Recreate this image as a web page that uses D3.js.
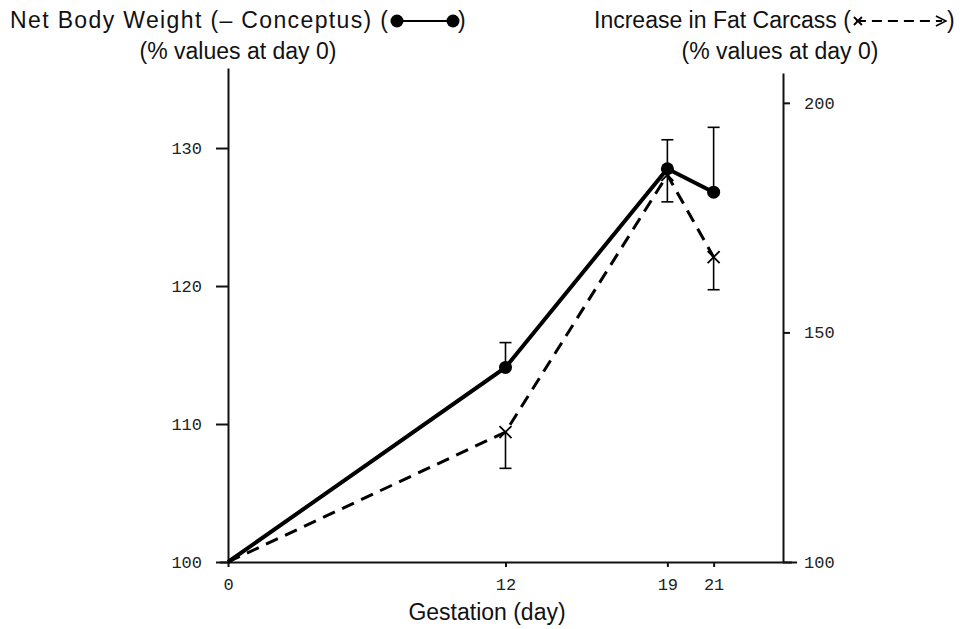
<!doctype html>
<html>
<head>
<meta charset="utf-8">
<script src="https://d3js.org/d3.v7.min.js"></script>
<style>
  body { margin: 0; background: #fff; }
  .title { font-family: "Liberation Sans", Arial, sans-serif; font-size: 23px; fill: #111; }
  .tick text { font-family: "Liberation Mono", "DejaVu Sans Mono", monospace; font-size: 17px; fill: #222; }
  .tick line, .domain { stroke: #111; stroke-width: 2; }
</style>
</head>
<body>
<svg width="965" height="629"></svg>
<script>

// gestation days and the two series (left and right axes)
var days = [0, 12, 19, 21];
var bodyWeight = [100, 114.1, 128.5, 126.8];   // % of day 0, left axis
var bodyErrUp  = [null, 115.9, 130.6, 131.5];
var bodyErrLo  = [null, null, 126.1, null];
var fatCarcass = [100, 128.3, 184.3, 166.4];   // % of day 0, right axis
var fatErrLo   = [null, 120.4, null, 159.3];

var xTicks = [0, 12, 19, 21];
var leftTicks = [100, 110, 120, 130];
var rightTicks = [100, 150, 200];

var svg = d3.select("svg");

var x = d3.scaleLinear().domain([0, 24]).range([228, 783]);
var yL = d3.scaleLinear().domain([100, 135.8]).range([562, 68]);
var yR = d3.scaleLinear().domain([100, 206.5]).range([562, 73]);

// axes
var gL = svg.append("g").attr("transform", "translate(228,0)")
    .call(d3.axisLeft(yL).tickValues(leftTicks).tickSize(12).tickSizeOuter(0).tickPadding(14));
var gR = svg.append("g").attr("transform", "translate(783,0)")
    .call(d3.axisRight(yR).tickValues(rightTicks).tickSize(7).tickSizeOuter(0).tickPadding(14));
var gX = svg.append("g").attr("transform", "translate(0,562)")
    .call(d3.axisBottom(x).tickValues(xTicks).tickSize(5).tickSizeOuter(0).tickPadding(11));
gX.select(".domain").attr("d", "M220,0.5H792");
gX.selectAll(".tick line").attr("stroke-width", 1.5);
gR.selectAll(".tick").filter(function(d) { return d === 100; }).select("line").attr("x2", 14);

// body weight line (solid)
var lineL = d3.line().x(function(d, i) { return x(days[i]); }).y(function(d) { return yL(d); });
svg.append("path").datum(bodyWeight)
    .attr("d", lineL).attr("fill", "none").attr("stroke", "#000").attr("stroke-width", 4);

// fat carcass line (dashed)
var lineR = d3.line().x(function(d, i) { return x(days[i]); }).y(function(d) { return yR(d); });
svg.append("path").datum(fatCarcass)
    .attr("d", lineR).attr("fill", "none").attr("stroke", "#000")
    .attr("stroke-width", 3).attr("stroke-dasharray", "13,8");

// error bars
function errBar(xv, y0, y1) {
  svg.append("line").attr("x1", xv).attr("x2", xv).attr("y1", y0).attr("y2", y1)
      .attr("stroke", "#000").attr("stroke-width", 1.6);
  svg.append("line").attr("x1", xv - 6).attr("x2", xv + 6).attr("y1", y1).attr("y2", y1)
      .attr("stroke", "#000").attr("stroke-width", 1.6);
}
days.forEach(function(d, i) {
  if (bodyErrUp[i] != null) errBar(x(d), yL(bodyWeight[i]), yL(bodyErrUp[i]));
  if (bodyErrLo[i] != null) errBar(x(d), yL(bodyWeight[i]), yL(bodyErrLo[i]));
  if (fatErrLo[i] != null) errBar(x(d), yR(fatCarcass[i]), yR(fatErrLo[i]));
});

// markers
svg.selectAll(".dot").data(bodyWeight.slice(1)).enter().append("circle")
    .attr("cx", function(d, i) { return x(days[i + 1]); })
    .attr("cy", function(d) { return yL(d); })
    .attr("r", 6.5).attr("fill", "#000");

function cross(g, cx, cy, s) {
  g.append("path").attr("d", "M" + (cx - s) + "," + (cy - s) + "L" + (cx + s) + "," + (cy + s) +
      "M" + (cx - s) + "," + (cy + s) + "L" + (cx + s) + "," + (cy - s))
    .attr("stroke", "#000").attr("stroke-width", 1.8).attr("fill", "none");
}
fatCarcass.forEach(function(d, i) {
  if (i > 0) cross(svg, x(days[i]), yR(d), 6);
});

// legend titles
svg.append("text").attr("class", "title").attr("x", 10).attr("y", 28)
    .attr("textLength", 378).attr("lengthAdjust", "spacing")
    .text("Net Body Weight (\u2013 Conceptus) (");
var sx = 397;
svg.append("line").attr("x1", sx).attr("x2", sx + 56).attr("y1", 21).attr("y2", 21)
    .attr("stroke", "#000").attr("stroke-width", 2);
svg.append("circle").attr("cx", sx).attr("cy", 21).attr("r", 6.5);
svg.append("circle").attr("cx", sx + 56).attr("cy", 21).attr("r", 6.5);
svg.append("text").attr("class", "title").attr("x", sx + 61).attr("y", 28).text(")");
svg.append("text").attr("class", "title").attr("x", 238).attr("y", 59)
    .attr("text-anchor", "middle").text("(% values at day 0)");

var t2 = svg.append("text").attr("class", "title").attr("x", 594).attr("y", 28)
    .text("Increase in Fat Carcass (");
var w2 = t2.node().getComputedTextLength();
var rx = 594 + w2 + 5;
cross(svg, rx + 2, 21, 4);
svg.append("line").attr("x1", rx).attr("x2", rx + 86).attr("y1", 21).attr("y2", 21)
    .attr("stroke", "#000").attr("stroke-width", 2).attr("stroke-dasharray", "10,6");
svg.append("path").attr("d", "M" + (rx + 80) + ",16L" + (rx + 90) + ",21L" + (rx + 80) + ",26")
    .attr("fill", "none").attr("stroke", "#000").attr("stroke-width", 1.5);
svg.append("text").attr("class", "title").attr("x", rx + 91).attr("y", 28).text(")");
svg.append("text").attr("class", "title").attr("x", 780).attr("y", 59)
    .attr("text-anchor", "middle").text("(% values at day 0)");

// x axis title
svg.append("text").attr("class", "title").attr("x", 487).attr("y", 620)
    .attr("text-anchor", "middle").text("Gestation (day)");

</script>
</body>
</html>
